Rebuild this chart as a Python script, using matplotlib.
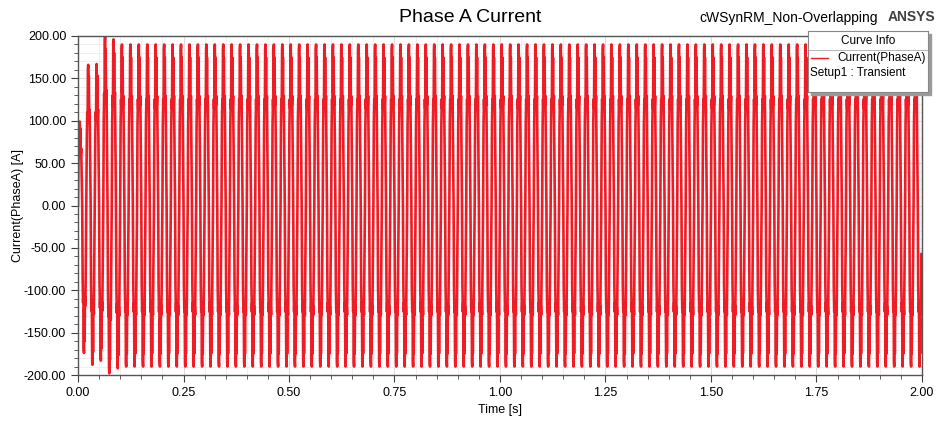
import matplotlib
matplotlib.use("Agg")
import matplotlib.pyplot as plt
from matplotlib.ticker import MultipleLocator, FormatStrFormatter
from matplotlib.patches import Rectangle
import numpy as np

plt.rcParams['font.family'] = ['Liberation Sans', 'DejaVu Sans']

# values
freq_hz = 50.0
n_cycles = 100
# one period of the current shape (fraction of period, fraction of peak)
cycle_phase = [0.00, 0.05, 0.10, 0.14, 0.18, 0.21, 0.24, 0.28, 0.33, 0.38, 0.44,
               0.50, 0.55, 0.60, 0.64, 0.68, 0.71, 0.74, 0.78, 0.83, 0.88, 0.94]
cycle_shape = [0.00, 0.50, 0.66, 0.60, 0.97, 1.00, 0.70, 0.92, 0.62, 0.68, 0.30,
               0.00, -0.50, -0.66, -0.60, -0.97, -1.00, -0.70, -0.92, -0.62, -0.68, -0.30]
# peak / trough of each cycle [A]
start_pos = [99, 166, 167, 200, 196]
start_neg = [-174, -188, -183, -198, -192]
pos_peaks = start_pos + [190] * (n_cycles - len(start_pos))
neg_peaks = start_neg + [-190] * (n_cycles - len(start_neg))

period = 1.0 / freq_hz
t_list, i_list = [], []
for k in range(n_cycles):
    for ph, v in zip(cycle_phase, cycle_shape):
        t_list.append((k + ph) * period)
        i_list.append(v * (pos_peaks[k] if v > 0 else -neg_peaks[k]))
t_list.append(n_cycles * period)
i_list.append(-110.0)

fig = plt.figure(figsize=(9.4, 4.21), dpi=100)
ax = fig.add_axes([78 / 940, 1 - 375 / 421, 844 / 940, 339 / 421])

ax.plot(t_list, i_list, color='#ee1c25', lw=1.9)

ax.set_xlim(0, 2.0)
ax.set_ylim(-200, 200)
ax.xaxis.set_major_locator(MultipleLocator(0.25))
ax.xaxis.set_minor_locator(MultipleLocator(0.05))
ax.yaxis.set_major_locator(MultipleLocator(50))
ax.yaxis.set_minor_locator(MultipleLocator(10))
ax.xaxis.set_major_formatter(FormatStrFormatter('%.2f'))
ax.yaxis.set_major_formatter(FormatStrFormatter('%.2f'))
ax.grid(which='major', color='#dcdcdc', lw=0.8)
ax.grid(which='minor', color='#ededed', lw=0.6)
ax.set_axisbelow(True)
ax.tick_params(which='major', direction='out', length=5, color='#404040',
               labelsize=9, labelcolor='black')
ax.tick_params(which='minor', direction='out', length=3, color='#404040')
for s in ax.spines.values():
    s.set_color('#555555')
    s.set_linewidth(1.0)

ax.set_xlabel('Time [s]', fontsize=9, labelpad=4)
ax.set_ylabel('Current(PhaseA) [A]', fontsize=9, labelpad=0)

fig.text(470 / 940, 1 - 18 / 421, 'Phase A Current', ha='center', va='center',
         fontsize=14)
fig.text(789 / 940, 1 - 18 / 421, 'cWSynRM_Non-Overlapping', ha='center',
         va='center', fontsize=10)
fig.text(911 / 940, 1 - 17 / 421, 'ANSYS', ha='center', va='center',
         fontsize=10, fontweight='bold', color='#404040')

# legend box ("Curve Info") with a small shadow
fig.patches.append(Rectangle((811 / 940, 1 - 95 / 421), 120 / 940, 61 / 421,
                             transform=fig.transFigure, color='#9a9a9a',
                             zorder=5))
leg = fig.add_axes([808 / 940, 1 - 92 / 421, 120 / 940, 61 / 421], zorder=6)
leg.set_xlim(0, 120)
leg.set_ylim(61, 0)
leg.set_xticks([])
leg.set_yticks([])
for s in leg.spines.values():
    s.set_color('#888888')
    s.set_linewidth(0.8)
leg.text(60, 10, 'Curve Info', ha='center', va='center', fontsize=8.5)
leg.axhline(19, color='#aaaaaa', lw=0.6)
leg.plot([3, 20], [27, 27], color='#ee1c25', lw=1.0)
leg.text(118, 27, 'Current(PhaseA)', ha='right', va='center', fontsize=8.5)
leg.text(2, 42, 'Setup1 : Transient', ha='left', va='center', fontsize=8.5)

fig.savefig('out.png', dpi=100)
